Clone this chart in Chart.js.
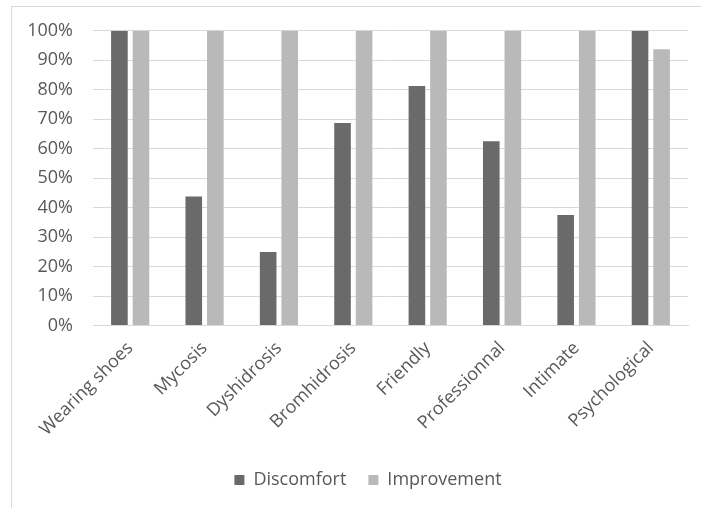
<!DOCTYPE html>
<html>
<head>
<meta charset="utf-8">
<script src="https://cdn.jsdelivr.net/npm/chart.js@4/dist/chart.umd.min.js"></script>
<style>
  html, body { margin: 0; padding: 0; background: #ffffff; }
  body { width: 701px; height: 508px; position: relative; overflow: hidden; }
  .frame { position: absolute; left: 11px; top: 6px; width: 900px; height: 700px;
           border: 1px solid #d9d9d9; box-sizing: border-box; }
  #wrap { position: absolute; left: 0; top: 0; width: 701px; height: 508px; }
</style>
</head>
<body>
<div class="frame"></div>
<div id="wrap"><canvas id="c" width="701" height="508"></canvas></div>
<script>
// Share of respondents (%) per item
const categories = ['Wearing shoes', 'Mycosis', 'Dyshidrosis', 'Bromhidrosis',
                    'Friendly', 'Professionnal', 'Intimate', 'Psychological'];
const discomfort  = [100, 43.75, 25, 68.75, 81.25, 62.5, 37.5, 100];
const improvement = [100, 100, 100, 100, 100, 100, 100, 93.75];
const yTicks = [0, 10, 20, 30, 40, 50, 60, 70, 80, 90, 100];

const textColor = '#595959';
const gridColor = '#d9d9d9';
const font = { family: '"Open Sans", sans-serif', size: 18 };

// The legend sits centred under the whole frame, which runs past the right edge
const legendShift = {
  id: 'legendShift',
  afterLayout(chart) {
    const lg = chart.legend;
    if (lg) { lg.left += 24; lg.right += 24; }
  }
};

new Chart(document.getElementById('c'), {
  type: 'bar',
  data: {
    labels: categories,
    datasets: [
      { label: 'Discomfort', data: discomfort, backgroundColor: '#6a6a6a',
        barPercentage: 0.77, categoryPercentage: 0.58 },
      { label: 'Improvement', data: improvement, backgroundColor: '#b9b9b9',
        barPercentage: 0.77, categoryPercentage: 0.58 }
    ]
  },
  plugins: [legendShift],
  options: {
    responsive: false,
    animation: false,
    devicePixelRatio: 1,
    layout: { padding: { top: 20, right: 13, bottom: 9, left: 0 } },
    plugins: {
      tooltip: { enabled: false },
      legend: {
        position: 'bottom',
        labels: { color: textColor, font: font, boxWidth: 10, boxHeight: 10, padding: 22 }
      }
    },
    scales: {
      x: {
        afterFit: (s) => { s.height += 5; },
        grid: { display: false },
        border: { display: true, color: gridColor },
        ticks: { color: textColor, font: font, minRotation: 45, maxRotation: 45, padding: 4 }
      },
      y: {
        min: 0, max: 100,
        afterFit: (s) => { s.width = 93; },
        afterBuildTicks: (s) => { s.ticks = yTicks.map(v => ({ value: v })); },
        grid: { color: gridColor, drawTicks: false },
        border: { display: false },
        ticks: { color: textColor, font: font, padding: 20, callback: (v) => v + '%' }
      }
    }
  }
});
</script>
</body>
</html>
